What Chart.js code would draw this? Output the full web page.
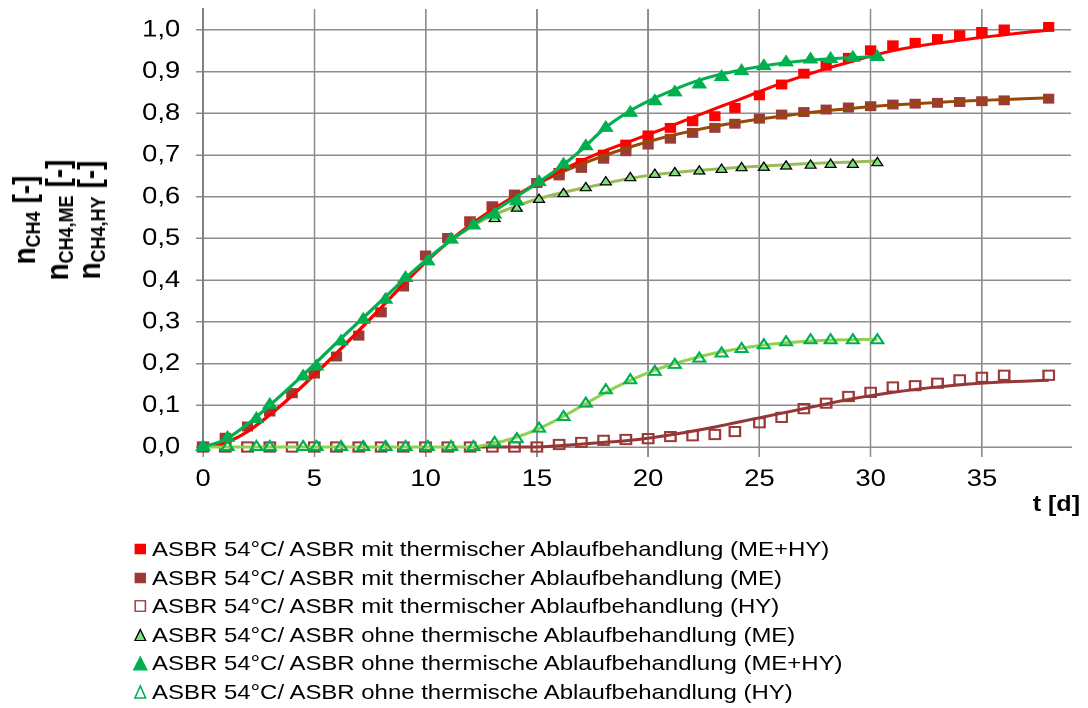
<!DOCTYPE html>
<html>
<head>
<meta charset="utf-8">
<title>ASBR Methanbildung</title>
<script src="https://cdn.jsdelivr.net/npm/chart.js@4.4.0/dist/chart.umd.min.js"></script>
<style>
    body { margin: 0; background: #fff; }
    /* the reference is a bit wider than tall in its lettering, so the whole stage is stretched */
    #stage {
        position: absolute; left: 0; top: 0;
        width: 954px; height: 708px;
        transform: scaleX(1.1405); transform-origin: 0 0;
        font-family: "Liberation Sans", Arial, sans-serif; color: #000;
    }
    #chart { position: absolute; left: 0; top: 0; }
    #ytitle {
        position: absolute; left: 49.5px; top: 220px;
        transform: translate(-50%, -50%) rotate(-90deg);
        font-weight: bold; font-size: 28px; line-height: 28.5px;
        text-align: center; white-space: nowrap;
    }
    #ytitle sub { font-size: 18px; vertical-align: -4.5px; line-height: 0; }
    #tlabel {
        position: absolute; right: 7px; top: 492px;
        font-weight: bold; font-size: 22px; line-height: 24px; white-space: nowrap;
    }
    #legend { position: absolute; left: 114px; top: 534.7px; font-size: 21px; }
    .row { display: flex; align-items: center; height: 28.6px; white-space: nowrap; }
    .row svg { width: 18px; height: 16px; flex: none; }
    .row span { margin-left: 1.3px; }
</style>
</head>
<body>
<div id="stage">
    <canvas id="chart" width="954" height="708"></canvas>
    <div id="ytitle">
        <div>n<sub>CH4</sub> [-]</div>
        <div>n<sub>CH4,ME</sub> [-]</div>
        <div>n<sub>CH4,HY</sub> [-]</div>
    </div>
    <div id="tlabel">t [d]</div>
    <div id="legend">
        <div class="row"><svg viewBox="0 0 18 16"><rect x="4" y="2.75" width="10" height="10.5" fill="#ff0000"/></svg><span>ASBR 54°C/ ASBR mit thermischer Ablaufbehandlung (ME+HY)</span></div>
        <div class="row"><svg viewBox="0 0 18 16"><rect x="4" y="2.75" width="10" height="10.5" fill="#9a3b38"/></svg><span>ASBR 54°C/ ASBR mit thermischer Ablaufbehandlung (ME)</span></div>
        <div class="row"><svg viewBox="0 0 18 16"><rect x="4.5" y="2.75" width="9" height="10.5" fill="#fff" stroke="#9a3b38" stroke-width="1.3"/></svg><span>ASBR 54°C/ ASBR mit thermischer Ablaufbehandlung (HY)</span></div>
        <div class="row"><svg viewBox="0 0 18 16"><polygon points="9,2.5 4.3,13.5 13.7,13.5" fill="#80e080" stroke="#000" stroke-width="1.2"/></svg><span>ASBR 54°C/ ASBR ohne thermische Ablaufbehandlung (ME)</span></div>
        <div class="row"><svg viewBox="0 0 18 16"><polygon points="9,0.5 2.3,15.5 15.7,15.5" fill="#00b050"/></svg><span>ASBR 54°C/ ASBR ohne thermische Ablaufbehandlung (ME+HY)</span></div>
        <div class="row"><svg viewBox="0 0 18 16"><polygon points="9,2 4.3,14 13.7,14" fill="#fff" stroke="#00b050" stroke-width="1.4"/></svg><span>ASBR 54°C/ ASBR ohne thermische Ablaufbehandlung (HY)</span></div>
    </div>
</div>

<script>
// measured days (ASBR mit thermischer Ablaufbehandlung)
const sqDays = [0, 1, 2, 3, 4, 5, 6, 7, 8, 9, 10, 11, 12, 13, 14, 15, 16, 17, 18, 19, 20, 21, 22, 23, 23.9,
    25, 26, 27, 28, 29, 30, 31, 32, 33, 34, 35, 36, 38];
const mitMEHY = [0, 0.022, 0.049, 0.085, 0.129, 0.176, 0.217, 0.267, 0.323, 0.385, 0.459, 0.501, 0.541, 0.577,
    0.605, 0.633, 0.657, 0.681, 0.701, 0.725, 0.747, 0.765, 0.781, 0.793, 0.813,
    0.843, 0.869, 0.895, 0.914, 0.933, 0.951, 0.963, 0.969, 0.978, 0.987, 0.995, 1.001, 1.007];
const mitME = [0, 0.022, 0.049, 0.085, 0.129, 0.176, 0.217, 0.267, 0.323, 0.385, 0.459, 0.501, 0.541, 0.577,
    0.605, 0.633, 0.651, 0.669, 0.691, 0.709, 0.725, 0.739, 0.753, 0.765, 0.775,
    0.787, 0.797, 0.803, 0.809, 0.814, 0.817, 0.821, 0.823, 0.825, 0.827, 0.829, 0.831, 0.835];
const mitHY = [0, 0, 0, 0, 0, 0, 0, 0, 0, 0, 0, 0, 0, 0, 0, 0, 0.006, 0.011, 0.016, 0.018, 0.02, 0.025, 0.027, 0.03, 0.037,
    0.058, 0.071, 0.092, 0.105, 0.121, 0.131, 0.144, 0.147, 0.153, 0.161, 0.167, 0.172, 0.172];

// measured days (ASBR ohne thermische Ablaufbehandlung)
const triDays = [0, 1.1, 2.4, 3, 4.5, 5.1, 6.2, 7.2, 8.2, 9.1, 10.1, 11.15, 12.15, 13.1, 14.1, 15.1, 16.2, 17.2,
    18.1, 19.2, 20.3, 21.2, 22.3, 23.3, 24.2, 25.2, 26.2, 27.3, 28.2, 29.2, 30.3];
const ohneME = [0, 0.022, 0.067, 0.101, 0.169, 0.193, 0.253, 0.305, 0.353, 0.405, 0.445, 0.497, 0.531, 0.547,
    0.572, 0.593, 0.607, 0.621, 0.635, 0.645, 0.653, 0.657, 0.661, 0.665, 0.669, 0.670, 0.673, 0.675, 0.677, 0.677, 0.681];
const ohneMEHY = [0, 0.022, 0.067, 0.101, 0.169, 0.193, 0.253, 0.305, 0.353, 0.405, 0.445, 0.497, 0.531, 0.557,
    0.589, 0.635, 0.677, 0.721, 0.765, 0.801, 0.829, 0.850, 0.869, 0.887, 0.901, 0.913, 0.922, 0.929, 0.930, 0.933, 0.935];
const ohneHY = [0, 0, 0, 0, 0, 0, 0, 0, 0, 0, 0, 0, 0, 0.01, 0.019, 0.044, 0.072, 0.104, 0.136, 0.160, 0.18,
    0.197, 0.212, 0.224, 0.235, 0.244, 0.251, 0.256, 0.256, 0.256, 0.256];

// fitted curves
const fitDaysMit = [0, 1, 2, 3, 4, 5, 6, 7, 8, 9, 10, 11, 12, 13, 14, 15, 16, 17, 18, 19, 20, 21, 22, 23, 24,
    25, 26, 27, 28, 29, 30, 31, 32, 33, 34, 35, 36, 37, 38];
const fitMitMEHY = [0, 0.01, 0.037, 0.077, 0.123, 0.173, 0.225, 0.279, 0.334, 0.39, 0.443, 0.49, 0.532, 0.569,
    0.601, 0.632, 0.66, 0.686, 0.709, 0.729, 0.749, 0.769, 0.79, 0.811, 0.831, 0.852, 0.872, 0.89, 0.907, 0.922,
    0.937, 0.95, 0.96, 0.968, 0.975, 0.982, 0.988, 0.994, 0.999];
const fitMitME = [0, 0.01, 0.037, 0.077, 0.123, 0.173, 0.225, 0.279, 0.334, 0.39, 0.443, 0.49, 0.532, 0.568,
    0.6, 0.63, 0.656, 0.678, 0.698, 0.716, 0.732, 0.746, 0.758, 0.769, 0.778, 0.786, 0.793, 0.8, 0.806, 0.811,
    0.816, 0.82, 0.823, 0.826, 0.829, 0.831, 0.833, 0.835, 0.837];
const fitMitHY = [0, 0, 0, 0, 0, 0, 0, 0, 0, 0, 0, 0, 0, 0, 0, 0, 0.003, 0.007, 0.011, 0.015, 0.021, 0.029, 0.038,
    0.048, 0.059, 0.07, 0.081, 0.092, 0.103, 0.114, 0.123, 0.131, 0.138, 0.144, 0.149, 0.153, 0.156, 0.158, 0.16];

const fitDaysOhne = [0, 1, 2, 3, 4, 5, 6, 7, 8, 9, 10, 11, 12, 13, 14, 15, 16, 17, 18, 19, 20, 21, 22, 23, 24,
    25, 26, 27, 28, 29, 30, 30.3];
const fitOhneMEHY = [0, 0.018, 0.055, 0.1, 0.148, 0.198, 0.25, 0.3, 0.35, 0.4, 0.447, 0.49, 0.528, 0.563, 0.597,
    0.632, 0.669, 0.712, 0.762, 0.8, 0.829, 0.853, 0.874, 0.89, 0.902, 0.912, 0.92, 0.926, 0.93, 0.933, 0.935, 0.935];
const fitOhneME = [0, 0.018, 0.055, 0.1, 0.148, 0.198, 0.25, 0.3, 0.35, 0.4, 0.447, 0.49, 0.526, 0.555, 0.576,
    0.594, 0.608, 0.62, 0.631, 0.642, 0.651, 0.657, 0.662, 0.666, 0.67, 0.673, 0.676, 0.679, 0.681, 0.683, 0.685, 0.686];
const fitOhneHY = [0, 0, 0, 0, 0, 0, 0, 0, 0, 0, 0, 0, 0, 0.008, 0.022, 0.042, 0.068, 0.098, 0.128, 0.155, 0.178,
    0.197, 0.212, 0.225, 0.235, 0.243, 0.249, 0.253, 0.256, 0.257, 0.258, 0.258];

function pts(xs, ys) {
    return xs.map((x, i) => ({ x: x, y: ys[i] }));
}

function markers(xs, ys, style, order) {
    return Object.assign({
        data: pts(xs, ys),
        showLine: false,
        clip: false,
        order: order
    }, style);
}

function curve(xs, ys, color, order) {
    return {
        data: pts(xs, ys),
        showLine: true,
        borderColor: color,
        borderWidth: 3,
        pointRadius: 0,
        cubicInterpolationMode: "monotone",
        clip: false,
        order: order
    };
}

const tickFont = { family: "'Liberation Sans', Arial, sans-serif", size: 24 };

new Chart(document.getElementById("chart"), {
    type: "scatter",
    data: {
        datasets: [
            markers(sqDays, mitMEHY, { pointStyle: "rect", pointRadius: 7, backgroundColor: "#ff0000", borderWidth: 0 }, 11),
            markers(sqDays, mitME, { pointStyle: "rect", pointRadius: 7, backgroundColor: "#9a3b38", borderWidth: 0 }, 10),
            markers(sqDays, mitHY, { pointStyle: "rect", pointRadius: 6.5, backgroundColor: "rgba(255,255,255,0)", borderColor: "#9a3b38", borderWidth: 2 }, 9),
            curve(fitDaysMit, fitMitME, "#984807", 8),
            curve(fitDaysMit, fitMitMEHY, "#ff0000", 7),
            curve(fitDaysMit, fitMitHY, "#953735", 6),
            curve(fitDaysOhne, fitOhneME, "#9bbb59", 5),
            curve(fitDaysOhne, fitOhneHY, "#92d050", 4),
            curve(fitDaysOhne, fitOhneMEHY, "#00b050", 3),
            markers(triDays, ohneME, { pointStyle: "triangle", pointRadius: 5.5, backgroundColor: "#80e080", borderColor: "#000", borderWidth: 1.2 }, 2),
            markers(triDays, ohneMEHY, { pointStyle: "triangle", pointRadius: 8, backgroundColor: "#00b050", borderWidth: 0 }, 1),
            markers(triDays, ohneHY, { pointStyle: "triangle", pointRadius: 6, backgroundColor: "rgba(255,255,255,0)", borderColor: "#00b050", borderWidth: 2 }, 0)
        ]
    },
    options: {
        responsive: false,
        devicePixelRatio: 2,
        animation: false,
        events: [],
        layout: { padding: { top: 9, right: 15, bottom: 221, left: 0 } },
        plugins: { legend: { display: false }, tooltip: { enabled: false } },
        scales: {
            x: {
                type: "linear",
                min: 0,
                max: 39,
                ticks: { stepSize: 5, includeBounds: false, font: tickFont, color: "#000", padding: 8, maxRotation: 0, autoSkip: false },
                grid: { color: "#8c8c8c", lineWidth: 1.5, tickLength: 10 },
                border: { color: "#8c8c8c", width: 1.5 },
                afterFit: function (s) {
                    s.height = 40;
                    s.paddingLeft = 0;
                    s.paddingRight = 0;
                }
            },
            y: {
                min: 0,
                max: 1.05,
                ticks: {
                    stepSize: 0.1, includeBounds: false, font: tickFont, color: "#000", padding: 14,
                    callback: v => v.toFixed(1).replace(".", ",")
                },
                grid: { color: "#8c8c8c", lineWidth: 1.5, tickLength: 6 },
                border: { color: "#808080", width: 2 },
                afterFit: function (s) {
                    s.width = 178;
                    s.paddingTop = 0;
                    s.paddingBottom = 0;
                }
            }
        }
    }
});
</script>
</body>
</html>
